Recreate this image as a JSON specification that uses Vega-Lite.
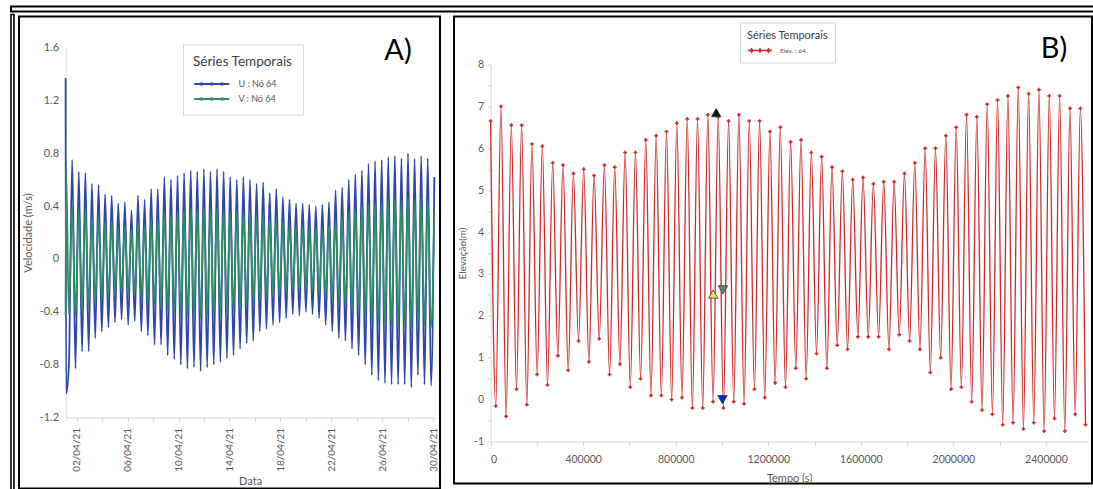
{
  "$schema": "https://vega.github.io/schema/vega-lite/v6.json",
  "padding": {"left": 9, "top": 4.5, "right": 0, "bottom": 0},
  "background": "white",
  "config": {
    "view": {"stroke": null},
    "font": "Lato",
    "axis": {"grid": false, "domainColor": "#d9d9d9", "tickColor": "#d9d9d9", "labelColor": "#595959", "titleColor": "#595959", "titleFontWeight": "normal", "labelFont": "Lato", "titleFont": "Lato"},
    "legend": {"titleFontWeight": "normal", "labelFont": "Lato", "titleFont": "Lato"}
  },
  "datasets": {
    "vel": [
      {"h":0,"u":1.37,"v":-0.43},{"h":1,"u":-1.02,"v":0.68},
      {"h":6.21,"u":-0.8,"v":-0.42},{"h":12.42,"u":0.75,"v":0.4},{"h":18.63,"u":-0.83,"v":-0.43},{"h":24.84,"u":0.66,"v":0.37},
      {"h":31.05,"u":-0.7,"v":-0.38},{"h":37.26,"u":0.65,"v":0.38},{"h":43.47,"u":-0.7,"v":-0.37},{"h":49.68,"u":0.57,"v":0.3},
      {"h":55.89,"u":-0.6,"v":-0.33},{"h":62.1,"u":0.56,"v":0.32},{"h":68.31,"u":-0.55,"v":-0.3},{"h":74.52,"u":0.49,"v":0.27},
      {"h":80.73,"u":-0.52,"v":-0.29},{"h":86.94,"u":0.48,"v":0.28},{"h":93.15,"u":-0.48,"v":-0.26},{"h":99.36,"u":0.42,"v":0.22},
      {"h":105.57,"u":-0.46,"v":-0.25},{"h":111.78,"u":0.43,"v":0.25},{"h":117.99,"u":-0.5,"v":-0.27},{"h":124.2,"u":0.37,"v":0.22},
      {"h":130.41,"u":-0.47,"v":-0.26},{"h":136.62,"u":0.48,"v":0.27},{"h":142.83,"u":-0.55,"v":-0.3},{"h":149.04,"u":0.45,"v":0.25},
      {"h":155.25,"u":-0.58,"v":-0.32},{"h":161.46,"u":0.53,"v":0.3},{"h":167.67,"u":-0.65,"v":-0.35},{"h":173.88,"u":0.53,"v":0.3},
      {"h":180.09,"u":-0.65,"v":-0.36},{"h":186.3,"u":0.62,"v":0.35},{"h":192.51,"u":-0.73,"v":-0.39},{"h":198.72,"u":0.6,"v":0.33},
      {"h":204.93,"u":-0.76,"v":-0.41},{"h":211.14,"u":0.63,"v":0.36},{"h":217.35,"u":-0.8,"v":-0.42},{"h":223.56,"u":0.65,"v":0.37},
      {"h":229.77,"u":-0.83,"v":-0.44},{"h":235.98,"u":0.67,"v":0.38},{"h":242.19,"u":-0.82,"v":-0.43},{"h":248.4,"u":0.66,"v":0.37},
      {"h":254.61,"u":-0.85,"v":-0.45},{"h":260.82,"u":0.68,"v":0.38},{"h":267.03,"u":-0.82,"v":-0.43},{"h":273.24,"u":0.66,"v":0.38},
      {"h":279.45,"u":-0.8,"v":-0.42},{"h":285.66,"u":0.68,"v":0.38},{"h":291.87,"u":-0.78,"v":-0.41},{"h":298.08,"u":0.66,"v":0.37},
      {"h":304.29,"u":-0.75,"v":-0.4},{"h":310.5,"u":0.62,"v":0.35},{"h":316.71,"u":-0.73,"v":-0.39},{"h":322.92,"u":0.6,"v":0.37},
      {"h":329.13,"u":-0.68,"v":-0.37},{"h":335.34,"u":0.62,"v":0.36},{"h":341.55,"u":-0.64,"v":-0.35},{"h":347.76,"u":0.6,"v":0.35},
      {"h":353.97,"u":-0.62,"v":-0.34},{"h":360.18,"u":0.57,"v":0.32},{"h":366.39,"u":-0.55,"v":-0.3},{"h":372.6,"u":0.58,"v":0.33},
      {"h":378.81,"u":-0.53,"v":-0.29},{"h":385.02,"u":0.5,"v":0.3},{"h":391.23,"u":-0.5,"v":-0.28},{"h":397.44,"u":0.53,"v":0.3},
      {"h":403.65,"u":-0.48,"v":-0.27},{"h":409.86,"u":0.47,"v":0.27},{"h":416.07,"u":-0.45,"v":-0.25},{"h":422.28,"u":0.45,"v":0.26},
      {"h":428.49,"u":-0.42,"v":-0.24},{"h":434.7,"u":0.42,"v":0.23},{"h":440.91,"u":-0.43,"v":-0.24},{"h":447.12,"u":0.42,"v":0.24},
      {"h":453.33,"u":-0.4,"v":-0.23},{"h":459.54,"u":0.41,"v":0.22},{"h":465.75,"u":-0.42,"v":-0.24},{"h":471.96,"u":0.4,"v":0.23},
      {"h":478.17,"u":-0.45,"v":-0.26},{"h":484.38,"u":0.41,"v":0.22},{"h":490.59,"u":-0.5,"v":-0.28},{"h":496.8,"u":0.43,"v":0.25},
      {"h":503.01,"u":-0.55,"v":-0.3},{"h":509.22,"u":0.52,"v":0.28},{"h":515.43,"u":-0.6,"v":-0.33},{"h":521.64,"u":0.54,"v":0.32},
      {"h":527.85,"u":-0.62,"v":-0.35},{"h":534.06,"u":0.6,"v":0.35},{"h":540.27,"u":-0.68,"v":-0.38},{"h":546.48,"u":0.64,"v":0.38},
      {"h":552.69,"u":-0.73,"v":-0.41},{"h":558.9,"u":0.67,"v":0.4},{"h":565.11,"u":-0.8,"v":-0.44},{"h":571.32,"u":0.72,"v":0.41},
      {"h":577.53,"u":-0.88,"v":-0.47},{"h":583.74,"u":0.74,"v":0.42},{"h":589.95,"u":-0.92,"v":-0.49},{"h":596.16,"u":0.75,"v":0.42},
      {"h":602.37,"u":-0.94,"v":-0.5},{"h":608.58,"u":0.77,"v":0.44},{"h":614.79,"u":-0.95,"v":-0.51},{"h":621.0,"u":0.78,"v":0.45},
      {"h":627.21,"u":-0.95,"v":-0.51},{"h":633.42,"u":0.76,"v":0.43},{"h":639.63,"u":-0.95,"v":-0.51},{"h":645.84,"u":0.8,"v":0.46},
      {"h":652.05,"u":-0.97,"v":-0.52},{"h":658.26,"u":0.76,"v":0.45},{"h":664.47,"u":-0.88,"v":-0.48},{"h":670.68,"u":0.78,"v":0.46},
      {"h":676.89,"u":-0.95,"v":-0.51},{"h":683.1,"u":0.76,"v":0.45},{"h":689.31,"u":-0.96,"v":-0.52},{"h":695.52,"u":0.62,"v":0.35}
    ],
    "elev": [
      {"t":0,"e":6.65},{"t":22356,"e":-0.15},{"t":44712,"e":7.0},{"t":67068,"e":-0.4},{"t":89424,"e":6.55},{"t":111780,"e":0.25},
      {"t":134136,"e":6.55},{"t":156492,"e":-0.12},{"t":178848,"e":6.1},{"t":201204,"e":0.6},{"t":223560,"e":6.05},{"t":245916,"e":0.35},
      {"t":268272,"e":5.65},{"t":290628,"e":1.05},{"t":312984,"e":5.6},{"t":335340,"e":0.7},{"t":357696,"e":5.4},{"t":380052,"e":1.4},
      {"t":402408,"e":5.5},{"t":424764,"e":0.9},{"t":447120,"e":5.35},{"t":469476,"e":1.45},{"t":491832,"e":5.6},{"t":514188,"e":0.6},
      {"t":536544,"e":5.55},{"t":558900,"e":0.85},{"t":581256,"e":5.9},{"t":603612,"e":0.3},{"t":625968,"e":5.9},{"t":648324,"e":0.5},
      {"t":670680,"e":6.2},{"t":693036,"e":0.1},{"t":715392,"e":6.3},{"t":737748,"e":0.1},{"t":760104,"e":6.4},{"t":782460,"e":0.0},
      {"t":804816,"e":6.6},{"t":827172,"e":0.05},{"t":849528,"e":6.7},{"t":871884,"e":-0.2},{"t":894240,"e":6.7},{"t":916596,"e":-0.2},
      {"t":938952,"e":6.8},{"t":961308,"e":-0.05},{"t":983664,"e":6.75},{"t":1006020,"e":-0.2},{"t":1028376,"e":6.65},{"t":1050732,"e":-0.05},
      {"t":1073088,"e":6.8},{"t":1095444,"e":-0.1},{"t":1117800,"e":6.65},{"t":1140156,"e":0.25},{"t":1162512,"e":6.65},{"t":1184868,"e":0.05},
      {"t":1207224,"e":6.4},{"t":1229580,"e":0.4},{"t":1251936,"e":6.5},{"t":1274292,"e":0.3},{"t":1296648,"e":6.15},{"t":1319004,"e":0.75},
      {"t":1341360,"e":6.2},{"t":1363716,"e":0.5},{"t":1386072,"e":5.9},{"t":1408428,"e":1.1},{"t":1430784,"e":5.8},{"t":1453140,"e":0.75},
      {"t":1475496,"e":5.55},{"t":1497852,"e":1.3},{"t":1520208,"e":5.45},{"t":1542564,"e":1.2},{"t":1564920,"e":5.25},{"t":1587276,"e":1.5},
      {"t":1609632,"e":5.3},{"t":1631988,"e":1.5},{"t":1654344,"e":5.15},{"t":1676700,"e":1.5},{"t":1699056,"e":5.2},{"t":1721412,"e":1.2},
      {"t":1743768,"e":5.2},{"t":1766124,"e":1.55},{"t":1788480,"e":5.4},{"t":1810836,"e":1.4},{"t":1833192,"e":5.65},{"t":1855548,"e":1.2},
      {"t":1877904,"e":6.0},{"t":1900260,"e":0.65},{"t":1922616,"e":6.0},{"t":1944972,"e":1.0},{"t":1967328,"e":6.3},{"t":1989684,"e":0.25},
      {"t":2012040,"e":6.5},{"t":2034396,"e":0.3},{"t":2056752,"e":6.8},{"t":2079108,"e":-0.05},{"t":2101464,"e":6.75},{"t":2123820,"e":-0.25},
      {"t":2146176,"e":7.05},{"t":2168532,"e":-0.35},{"t":2190888,"e":7.15},{"t":2213244,"e":-0.6},{"t":2235600,"e":7.25},{"t":2257956,"e":-0.55},
      {"t":2280312,"e":7.45},{"t":2302668,"e":-0.7},{"t":2325024,"e":7.3},{"t":2347380,"e":-0.55},{"t":2369736,"e":7.4},{"t":2392092,"e":-0.75},
      {"t":2414448,"e":7.25},{"t":2436804,"e":-0.45},{"t":2459160,"e":7.25},{"t":2481516,"e":-0.75},{"t":2503872,"e":6.95},{"t":2526228,"e":-0.35},
      {"t":2548584,"e":6.95},{"t":2570940,"e":-0.6}
    ],
    "markers": [
      {"t":975000,"e":6.85,"kind":"max"},
      {"t":1002000,"e":0.0,"kind":"min"},
      {"t":962000,"e":2.52,"kind":"up"},
      {"t":1004000,"e":2.62,"kind":"down"}
    ]
  },
  "spacing": 0,
  "vconcat": [
    {
      "width": 1083, "height": 5,
      "view": {"stroke": "black", "strokeWidth": 2},
      "data": {"values": [{}]},
      "mark": {"type": "rule", "opacity": 0},
      "encoding": {}
    },
    {
      "spacing": 3,
      "hconcat": [
        {
          "width": 3, "height": 478,
          "view": {"stroke": "black", "strokeWidth": 1.6},
          "data": {"values": [{}]},
          "mark": {"type": "rule", "opacity": 0},
          "encoding": {}
        },
        {
          "spacing": 0,
          "vconcat": [
            {
              "width": 10, "height": 1,
              "data": {"values": [{}]},
              "mark": {"type": "rule", "opacity": 0},
              "encoding": {}
            },
            {
              "spacing": 12,
              "resolve": {"scale": {"color": "independent", "x": "independent", "y": "independent"}, "legend": {"color": "independent"}},
              "hconcat": [
                {
                  "width": 421, "height": 472,
                  "view": {"stroke": "black", "strokeWidth": 2},
                  "data": {"name": "vel"},
                  "encoding": {
                    "x": {
                      "field": "h", "type": "quantitative",
                      "scale": {"domain": [0, 696], "range": [46.6, 415.6], "nice": false, "zero": false},
                      "axis": {
                        "values": [21,69,117,165,213,261,309,357,405,453,501,549,597,645,693],
                        "labelExpr": "(datum.value + 3) % 96 == 24 ? (((datum.value + 3) / 24 + 1) < 10 ? '0' : '') + ((datum.value + 3) / 24 + 1) + '/04/21' : ''",
                        "labelAngle": -90, "labelFontSize": 10, "labelPadding": 6, "tickSize": 4,
                        "offset": -71, "title": "Data", "titleFontSize": 11, "titleY": 64, "titleBaseline": "middle"
                      }
                    }
                  },
                  "layer": [
                    {
                      "mark": {"type": "line", "strokeWidth": 1.8, "interpolate": "monotone"},
                      "encoding": {
                        "y": {
                          "field": "u", "type": "quantitative", "title": "Velocidade (m/s)",
                          "scale": {"domain": [-1.2, 1.6], "range": [401, 31], "nice": false, "zero": false},
                          "axis": {
                            "values": [-1.2,-0.8,-0.4,0,0.4,0.8,1.2,1.6],
                            "labelExpr": "'' + datum.value",
                            "labelFontSize": 11, "ticks": false, "tickSize": 0, "labelPadding": 7,
                            "offset": -46.6, "titleFontSize": 11, "titleX": -37.6, "titleBaseline": "middle"
                          }
                        },
                        "color": {
                          "datum": "U : Nó 64", "type": "nominal",
                          "scale": {"domain": ["U : Nó 64", "V : Nó 64"], "range": ["#2d47a8", "#2f8c66"]},
                          "legend": {
                            "orient": "none", "legendX": 164, "legendY": 28,
                            "title": "Séries Temporais", "titleFontSize": 13.5, "titleColor": "#404040", "titlePadding": 6,
                            "labelFontSize": 9, "labelColor": "#595959", "labelOffset": 25.5,
                            "symbolType": "M-1,0L3,0M-0.26,-0.08L-0.1,-0.08L-0.1,0.08L-0.26,0.08ZM0.92,-0.08L1.08,-0.08L1.08,0.08L0.92,0.08ZM2.1,-0.08L2.26,-0.08L2.26,0.08L2.1,0.08Z",
                            "symbolSize": 306, "symbolStrokeWidth": 1.8,
                            "strokeColor": "#d9d9d9", "fillColor": "white", "padding": 10, "rowPadding": 0
                          }
                        }
                      }
                    },
                    {
                      "mark": {"type": "line", "strokeWidth": 1.8, "interpolate": "monotone"},
                      "encoding": {
                        "y": {"field": "v", "type": "quantitative", "title": "Velocidade (m/s)"},
                        "color": {"datum": "V : Nó 64", "type": "nominal"}
                      }
                    },
                    {
                      "transform": [{"filter": "datum.h == 0"}],
                      "mark": {"type": "text", "text": "A)", "fontSize": 29, "font": "Lato", "color": "black", "align": "center", "baseline": "middle"},
                      "encoding": {"x": {"datum": 627}, "y": {"datum": 1.57}}
                    }
                  ]
                },
                {
                  "width": 638, "height": 467,
                  "view": {"stroke": "black", "strokeWidth": 2},
                  "encoding": {
                    "x": {
                      "field": "t", "type": "quantitative",
                      "scale": {"domain": [0, 2580000], "range": [36.6, 633.6], "nice": false, "zero": false},
                      "axis": {
                        "values": [0,200000,400000,600000,800000,1000000,1200000,1400000,1600000,1800000,2000000,2200000,2400000],
                        "labelExpr": "datum.value % 400000 == 0 ? '' + datum.value : ''",
                        "labelFontSize": 10.5, "labelPadding": 9, "tickSize": 4,
                        "offset": -42, "title": "Tempo (s)", "titleFontSize": 11, "titleY": 37, "titleBaseline": "middle"
                      }
                    },
                    "y": {
                      "field": "e", "type": "quantitative", "title": "Elevação(m)",
                      "scale": {"domain": [-1, 8], "range": [425, 48], "nice": false, "zero": false},
                      "axis": {
                        "values": [-1,-0.5,0,0.5,1,1.5,2,2.5,3,3.5,4,4.5,5,5.5,6,6.5,7,7.5,8],
                        "labelExpr": "datum.value % 1 == 0 ? '' + datum.value : ''",
                        "labelFontSize": 10.5, "tickSize": 3, "labelPadding": 4,
                        "offset": -36.6, "titleFontSize": 10, "titleX": -28.6, "titleBaseline": "middle"
                      }
                    }
                  },
                  "layer": [
                    {
                      "data": {"name": "elev"},
                      "mark": {"type": "line", "strokeWidth": 1.3, "interpolate": "monotone"},
                      "encoding": {
                        "color": {
                          "datum": "Elev. : 64", "type": "nominal",
                          "scale": {"domain": ["Elev. : 64"], "range": ["#cf2a2a"]},
                          "legend": {
                            "orient": "none", "legendX": 286, "legendY": 6,
                            "title": "Séries Temporais", "titleFontSize": 11, "titleColor": "#404040", "titlePadding": 3,
                            "labelFontSize": 6.5, "labelColor": "#595959", "labelOffset": 19,
                            "symbolType": "M-1,0L3,0M-0.6,0L-0.4,-0.3L-0.2,0L-0.4,0.3ZM0.8,0L1,-0.3L1.2,0L1,0.3ZM2.2,0L2.4,-0.3L2.6,0L2.4,0.3Z",
                            "symbolSize": 144, "symbolStrokeWidth": 1.3,
                            "strokeColor": "#d9d9d9", "fillColor": "white", "padding": 7
                          }
                        }
                      }
                    },
                    {
                      "data": {"name": "elev"},
                      "mark": {"type": "point", "shape": "cross", "filled": true, "size": 14, "color": "#cf2a2a", "opacity": 1}
                    },
                    {
                      "data": {"name": "markers"},
                      "mark": {"type": "point", "filled": true, "size": 90, "stroke": "#333333", "strokeWidth": 0.8, "opacity": 1},
                      "encoding": {
                        "shape": {"field": "kind", "type": "nominal", "scale": {"domain": ["max","min","up","down"], "range": ["triangle-up","triangle-down","triangle-up","triangle-down"]}, "legend": null},
                        "fill": {"field": "kind", "type": "nominal", "scale": {"domain": ["max","min","up","down"], "range": ["#111111","#1a1adb","#f2e05a","#5b8f6b"]}, "legend": null}
                      }
                    },
                    {
                      "data": {"name": "elev"},
                      "transform": [{"filter": "datum.t == 0"}],
                      "mark": {"type": "text", "text": "B)", "fontSize": 29, "font": "Lato", "color": "black", "align": "center", "baseline": "middle"},
                      "encoding": {"x": {"datum": 2434700}, "y": {"datum": 8.36}}
                    }
                  ]
                }
              ]
            }
          ]
        }
      ]
    }
  ]
}
